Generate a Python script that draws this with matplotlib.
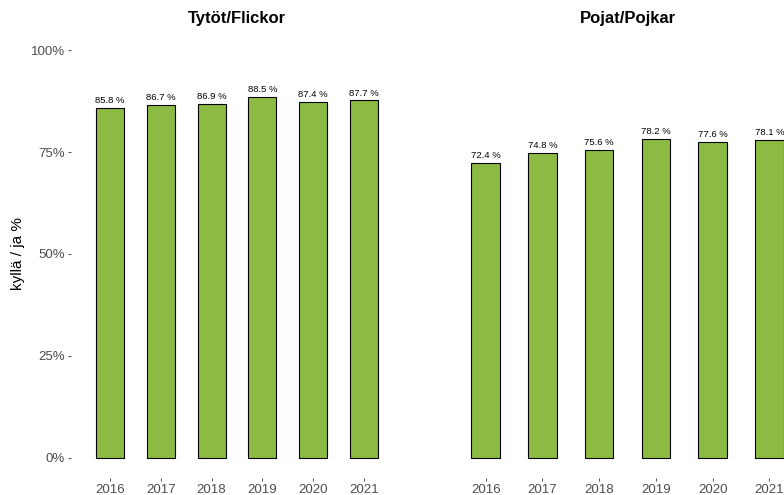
import numpy as np
import matplotlib.pyplot as plt

plt.rcParams['font.family'] = ['Liberation Sans', 'DejaVu Sans']

years = ['2016', '2017', '2018', '2019', '2020', '2021']
girls = [85.8, 86.7, 86.9, 88.5, 87.4, 87.7]
boys = [72.4, 74.8, 75.6, 78.2, 77.6, 78.1]
titles = ['Tytöt/Flickor', 'Pojat/Pojkar']

W, H = 784, 495
fig = plt.figure(figsize=(W / 100, H / 100), dpi=100)

bar_color = '#8cba42'
tick_grey = '#4d4d4d'

# panel boxes in pixels: (left, right) and bar width per panel
panels = [(71, 403), (442, 813)]
widths = [0.55, 0.5]
bottom_px, top_px = 478, 30

x = np.arange(len(years))
for i, (vals, title, (l, r), bw) in enumerate(zip([girls, boys], titles, panels, widths)):
    ax = fig.add_axes([l / W, (H - bottom_px) / H, (r - l) / W, (bottom_px - top_px) / H])
    ax.bar(x, vals, width=bw, color=bar_color, edgecolor='black', linewidth=0.8)
    for xi, v in zip(x, vals):
        ax.annotate(f'{v:.1f} %', (xi, v), xytext=(0, 2), textcoords='offset points',
                    ha='center', va='bottom', fontsize=6.8)
    ax.set_xlim(-0.77, 5.77)
    ax.set_ylim(-5, 105)
    ax.set_xticks(x)
    ax.set_xticklabels(years)
    ax.set_yticks([0, 25, 50, 75, 100])
    ax.set_yticklabels(['0%', '25%', '50%', '75%', '100%'])
    for s in ax.spines.values():
        s.set_visible(False)
    ax.tick_params(axis='both', colors='#333333', labelcolor=tick_grey, labelsize=9.5,
                   length=2.5, width=0.6, pad=2)
    ax.tick_params(axis='x', pad=2)
    ax.set_title(title, fontsize=12, fontweight='bold', pad=5)
    if i == 0:
        ax.set_ylabel('kyllä / ja %', fontsize=11, labelpad=4)
    else:
        ax.tick_params(axis='y', left=False, labelleft=False)

fig.savefig('out.png', dpi=100)
